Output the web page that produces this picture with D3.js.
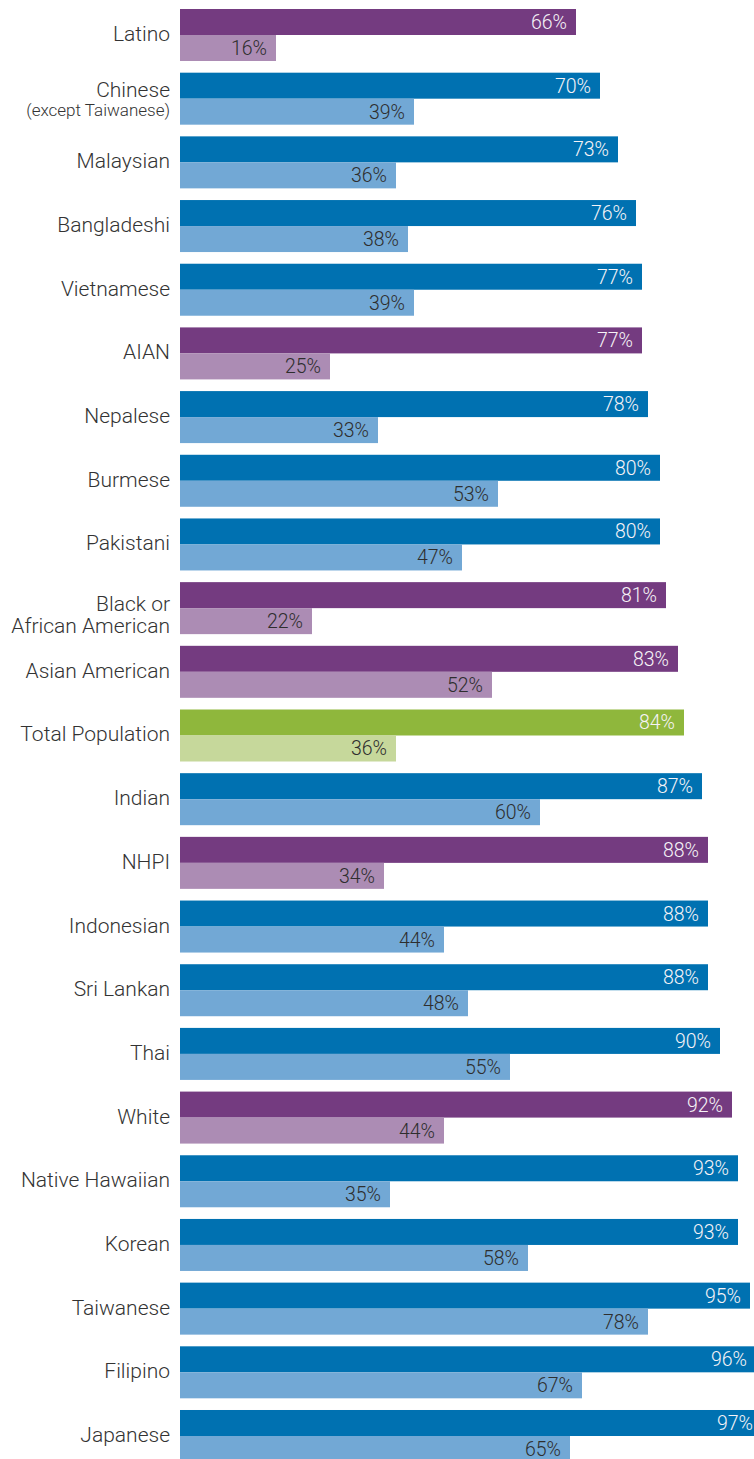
<!DOCTYPE html>
<html>
<head>
<meta charset="utf-8">
<script src="https://cdn.jsdelivr.net/npm/d3@7"></script>
<style>
  html, body { margin: 0; padding: 0; background: #ffffff; }
  svg { display: block; overflow: hidden; }
  text { font-family: Roboto, "Noto Sans", sans-serif; font-weight: 300; }
</style>
</head>
<body>
<svg id="chart" width="754" height="1459"></svg>
<script>
// Population groups, top to bottom ("\n" breaks a label onto two lines)
const categories = [
  "Latino", "Chinese\n(except Taiwanese)", "Malaysian", "Bangladeshi", "Vietnamese",
  "AIAN", "Nepalese", "Burmese", "Pakistani", "Black or\nAfrican American",
  "Asian American", "Total Population", "Indian", "NHPI", "Indonesian",
  "Sri Lankan", "Thai", "White", "Native Hawaiian", "Korean",
  "Taiwanese", "Filipino", "Japanese"
];

// Upper bar of each pair (percent)
const upperValues = [66, 70, 73, 76, 77, 77, 78, 80, 80, 81, 83, 84, 87, 88, 88, 88, 90, 92, 93, 93, 95, 96, 97];

// Lower bar of each pair (percent)
const lowerValues = [16, 39, 36, 38, 39, 25, 33, 53, 47, 22, 52, 36, 60, 34, 44, 48, 55, 44, 35, 58, 78, 67, 65];

// Colour family of each group
const groupKinds = [
  "race", "asian", "asian", "asian", "asian",
  "race", "asian", "asian", "asian", "race",
  "race", "total", "asian", "race", "asian",
  "asian", "asian", "race", "asian", "asian",
  "asian", "asian", "asian"
];

const palette = {
  race:  { upper: "#743b80", lower: "#ac8cb4" },
  asian: { upper: "#0071b1", lower: "#72a8d5" },
  total: { upper: "#8fb73c", lower: "#c6d89b" }
};

const rows = categories.map((c, i) => ({
  label: c,
  upper: upperValues[i],
  lower: lowerValues[i],
  kind: groupKinds[i]
}));

const svg = d3.select("#chart");

const x = d3.scaleLinear().domain([0, 100]).range([180, 780]);

const y = d3.scaleBand()
  .domain(categories)
  .range([9, 1462])
  .paddingInner(0.1834)
  .paddingOuter(0);

const half = y.bandwidth() / 2;

const g = svg.selectAll("g.row")
  .data(rows)
  .join("g")
  .attr("class", "row")
  .attr("transform", d => `translate(0,${y(d.label)})`);

// Upper bars
g.append("rect")
  .attr("x", x(0))
  .attr("y", 0)
  .attr("width", d => x(d.upper) - x(0))
  .attr("height", half)
  .attr("fill", d => palette[d.kind].upper);

// Lower bars
g.append("rect")
  .attr("x", x(0))
  .attr("y", half)
  .attr("width", d => x(d.lower) - x(0))
  .attr("height", half)
  .attr("fill", d => palette[d.kind].lower);

// Value labels inside the bar ends
g.append("text")
  .attr("x", d => x(d.upper) - 9)
  .attr("y", half / 2 + 7)
  .attr("text-anchor", "end")
  .attr("font-size", 19.5)
  .attr("fill", "#f6f3f7")
  .text(d => d.upper + "%");

g.append("text")
  .attr("x", d => x(d.lower) - 9)
  .attr("y", half + half / 2 + 7)
  .attr("text-anchor", "end")
  .attr("font-size", 19.5)
  .attr("fill", "#2e2e2e")
  .text(d => d.lower + "%");

// Category labels
g.each(function(d) {
  const lines = d.label.split("\n");
  const sel = d3.select(this);
  const mid = y.bandwidth() / 2;
  if (lines.length === 1) {
    sel.append("text")
      .attr("x", 170).attr("y", mid + 6)
      .attr("text-anchor", "end").attr("font-size", 21).attr("fill", "#333333")
      .text(lines[0]);
  } else if (lines[1].startsWith("(")) {
    sel.append("text")
      .attr("x", 170).attr("y", mid - 2)
      .attr("text-anchor", "end").attr("font-size", 21).attr("fill", "#333333")
      .text(lines[0]);
    sel.append("text")
      .attr("x", 170).attr("y", mid + 17)
      .attr("text-anchor", "end").attr("font-size", 17).attr("fill", "#333333")
      .text(lines[1]);
  } else {
    lines.forEach((ln, k) => {
      sel.append("text")
        .attr("x", 170).attr("y", mid + 3 + k * 22)
        .attr("text-anchor", "end").attr("font-size", 21).attr("fill", "#333333")
        .text(ln);
    });
  }
});
</script>
</body>
</html>
